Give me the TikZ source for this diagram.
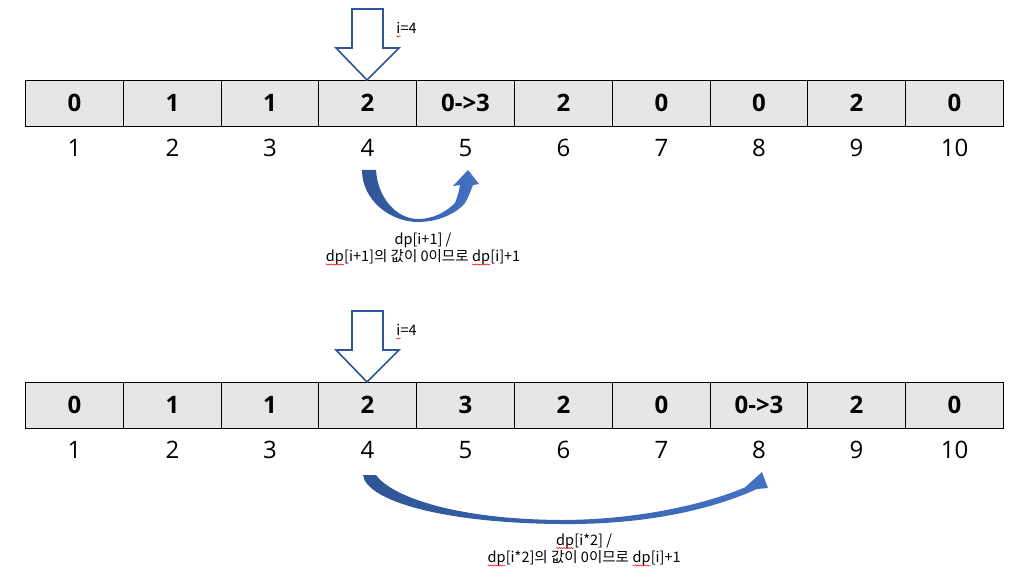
\documentclass[tikz,border=0pt]{standalone}
\usepackage{fontspec}
\setmainfont{Open Sans}
\newfontfamily\kr{Noto Sans CJK KR}
\usetikzlibrary{decorations.pathmorphing}
\newcommand\sqg[1]{\tikz[baseline=(sq.base)]{\node[inner sep=0pt,outer sep=0pt](sq){#1};\draw[red,line width=0.5pt,decorate,decoration={snake,amplitude=0.6pt,segment length=2.4pt}] ([yshift=-2.8pt]sq.base west) -- ([yshift=-2.8pt]sq.base east);}}
\definecolor{cellgray}{HTML}{E7E6E6}
\definecolor{dkblue}{HTML}{2F5597}
\definecolor{ltblue}{HTML}{4472C4}
\begin{document}
\begin{tikzpicture}[x=1pt,y=-1pt,
 cellbox/.style={fill=cellgray, draw=black, line width=1.2pt},
 cell/.style={inner sep=0pt, font=\fontsize{24}{28}\selectfont\bfseries},
 idx/.style={font=\fontsize{24}{28}\selectfont, inner sep=0pt},
 blk/.style={draw=dkblue, line width=1.6pt, fill=white, line join=miter},
 lbl/.style={font=\kr\fontsize{14.5}{17.5}\selectfont, align=center, inner sep=0pt},
 small/.style={font=\kr\fontsize{14.5}{16}\selectfont, inner sep=0pt},
 ribbon/.style={left color=dkblue, right color=ltblue}]
\useasboundingbox (0,0) rectangle (1035,588);
% row 1
\foreach \v [count=\k] in {0,1,1,2,0->3,2,0,0,2,0} {
  \pgfmathsetmacro{\bl}{round(25+97.8*(\k-1))+0.5}
  \pgfmathsetmacro{\br}{round(25+97.8*\k)+0.5}
  \draw[cellbox] (\bl,80.5) rectangle (\br,126.5);
  \node[cell] (a\k) at ({(\bl+\br)/2},103) {\v};
  \node[idx] (ia\k) at ({(\bl+\br)/2},148) {\k};
}
% row 2
\foreach \v [count=\k] in {0,1,1,2,3,2,0,0->3,2,0} {
  \pgfmathsetmacro{\bl}{round(25+97.8*(\k-1))+0.5}
  \pgfmathsetmacro{\br}{round(25+97.8*\k)+0.5}
  \draw[cellbox] (\bl,382.5) rectangle (\br,428.5);
  \node[cell] (b\k) at ({(\bl+\br)/2},405) {\v};
  \node[idx] (ib\k) at ({(\bl+\br)/2},450) {\k};
}
% block arrows
\draw[blk] (352,9) -- (383,9) -- (383,48) -- (399,48) -- (367,80) -- (336,48) -- (352,48) -- cycle;
\draw[blk] (352,311) -- (383,311) -- (383,350) -- (399,350) -- (367,382) -- (336,350) -- (352,350) -- cycle;
\node[small, anchor=west] (ti1) at (396,30) {\sqg{i}=4};
\node[small, anchor=west] (ti2) at (396,332) {\sqg{i}=4};
% curved arrow 1
\shade[ribbon] (362,170) .. controls (362,200) and (390,222) .. (418,222)
  .. controls (440,222) and (458,212) .. (465,203) .. controls (469,196) and (471,190) .. (473,185)
  -- (479,184) -- (468,170) -- (453,186) -- (460,185)
  .. controls (459,192) and (457,198) .. (455,203) .. controls (445,213) and (432,219) .. (418,219)
  .. controls (398,219) and (378,200) .. (376,170) -- cycle;
% curved arrow 2
\shade[ribbon] (363,475) .. controls (366,500) and (440,523) .. (560,524)
  .. controls (650,525) and (715,508) .. (757,489) -- (768,488) -- (762,472) -- (741,491) -- (748,486)
  .. controls (710,503) and (640,520) .. (560,520) .. controls (450,519) and (390,495) .. (376,475) -- cycle;
% labels
\node[lbl] (l1) at (423,249) {dp[i+1] /\\\sqg{dp}[i+1]의 값이 0이므로 \sqg{dp}[i]+1};
\node[lbl] (l2) at (584,550) {\sqg{dp}[i*2] /\\\sqg{dp}[i*2]의 값이 0이므로 \sqg{dp}[i]+1};
\end{tikzpicture}
\end{document}
